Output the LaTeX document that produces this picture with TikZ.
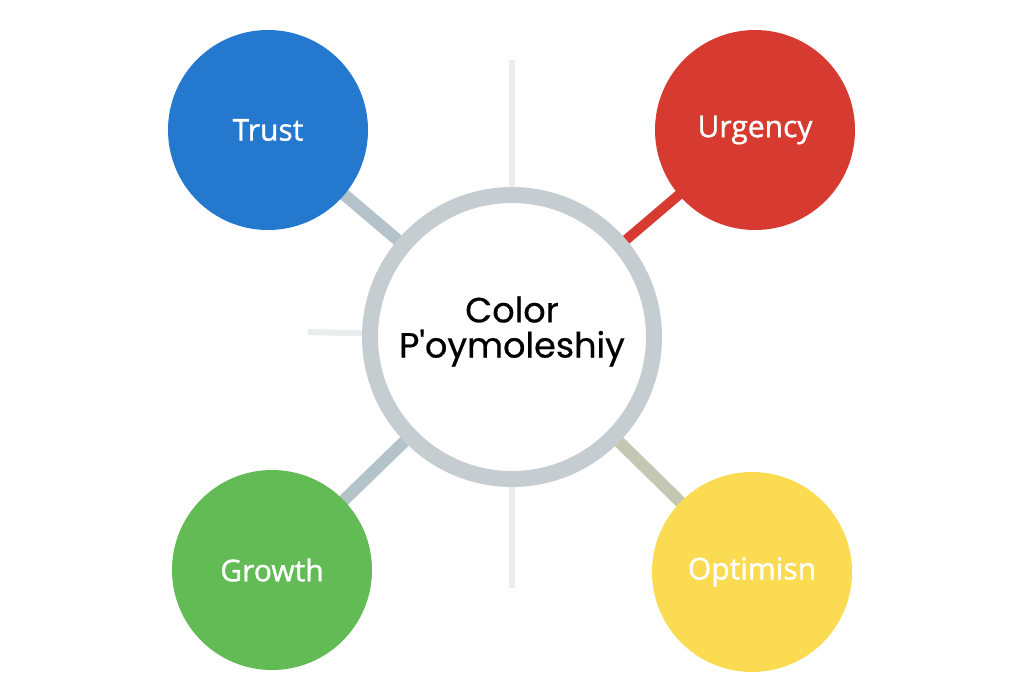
\documentclass[tikz,border=0pt]{standalone}
\usepackage{fontspec}
\setmainfont{Open Sans}
\newfontfamily\hubfont[FakeBold=0.6]{Poppins}
\newfontfamily\bubfont[FakeBold=1.2]{Open Sans}
\usetikzlibrary{backgrounds}
\definecolor{cblue}{HTML}{2479CF}
\definecolor{cred}{HTML}{D63A31}
\definecolor{cgreen}{HTML}{62BB55}
\definecolor{cyellow}{HTML}{FBDB52}
\definecolor{ring}{HTML}{C6CDD1}
\definecolor{link}{HTML}{B4C3CA}
\definecolor{faint}{HTML}{EAEDEE}
\begin{document}
\begin{tikzpicture}[x=1pt,y=-1pt,
  bubble/.style={circle,minimum size=200pt,inner sep=0pt,text=white,font=\bubfont\fontsize{30}{34}\selectfont},
  hub/.style={circle,draw=ring,line width=16pt,fill=white,minimum size=284pt,inner sep=0pt,align=center,font=\hubfont\fontsize{35}{38}\selectfont},
  linkline/.style={line width=12pt,draw=link},
  faintline/.style={line width=6pt,draw=faint}]
\useasboundingbox (0,0) rectangle (1024,675);
\coordinate (top) at (512,60);
\coordinate (left) at (308,332);
\coordinate (bot) at (512,588);
\node[hub] (c) at (512,337) {\raisebox{20pt}{\shortstack{Color\\[4pt]P'oymoleshiy}}};
\node[bubble,fill=cblue] (trust) at (268,130) {Trust};
\node[bubble,fill=cred] (urg) at (755,130) {Urgency};
\node[bubble,fill=cgreen] (grow) at (272,570) {Growth};
\node[bubble,fill=cyellow] (opt) at (752,572) {Optimisn};
\begin{pgfonlayer}{background}
\draw[faintline] (top) -- (c.center);
\draw[faintline] (left) -- (c.center);
\draw[faintline] (bot) -- (c.center);
\draw[linkline] (trust.center) -- (c.center);
\draw[linkline,draw=cred,line width=10pt] (urg.center) -- (c.center);
\draw[linkline] (grow.center) -- (c.center);
\draw[linkline,draw=link!80!cyellow] (opt.center) -- (c.center);
\end{pgfonlayer}
\end{tikzpicture}
\end{document}
